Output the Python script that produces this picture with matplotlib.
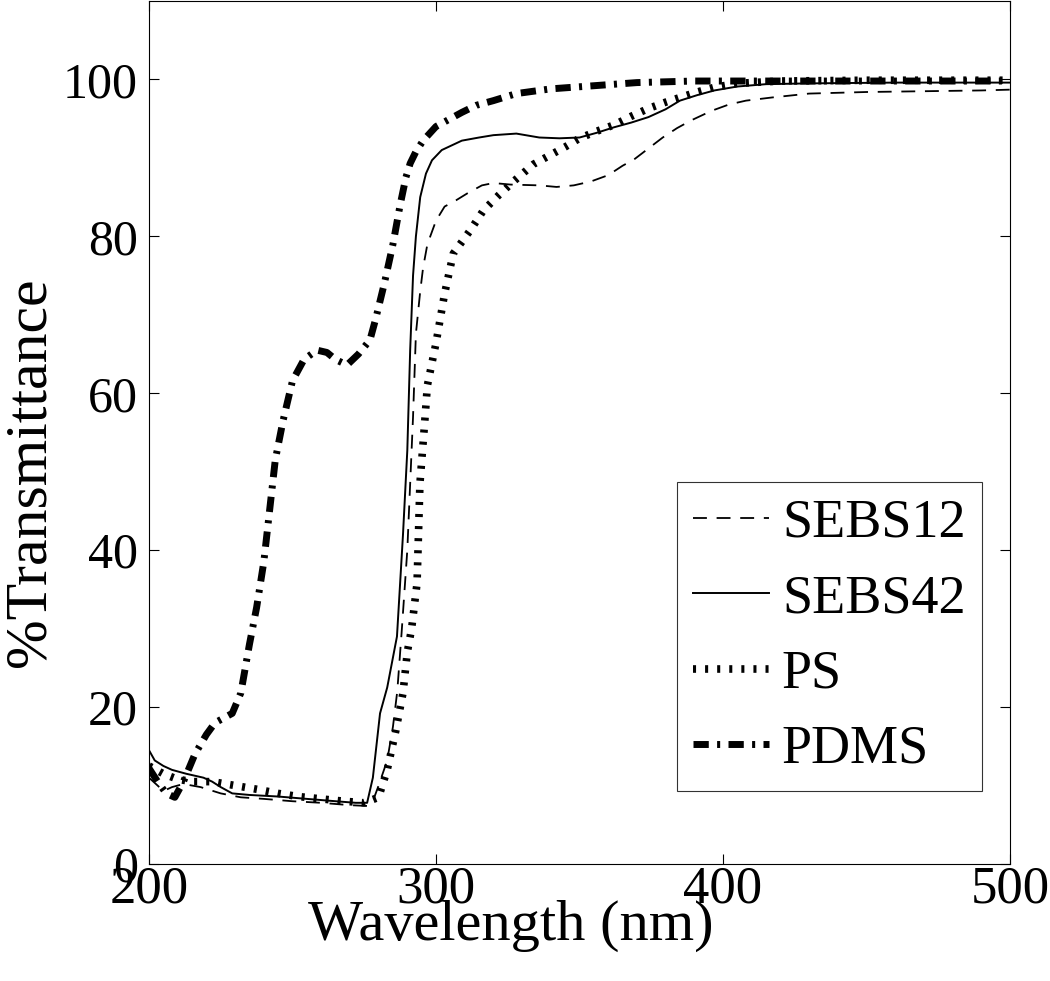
import matplotlib
matplotlib.use("Agg")
import matplotlib.pyplot as plt

plt.rcParams['font.family'] = ['Liberation Serif', 'DejaVu Serif']
plt.rcParams['lines.scale_dashes'] = False

# SEBS12 (thin dashed)
wl_sebs12 = [200, 203, 205, 208, 212, 218, 225, 232, 240, 250, 260, 270, 276, 278, 280, 283, 285,
             286.5, 288, 290, 292, 293, 294.5, 295.5, 297, 300, 303, 307, 311, 316, 320, 326, 336,
             342, 348, 354, 360, 365, 369, 374, 379, 384, 389, 396, 402, 408, 417, 430, 450, 470,
             490, 500]
t_sebs12 = [11.0, 10.0, 9.3, 9.8, 10.2, 9.8, 9.0, 8.5, 8.3, 8.0, 7.8, 7.5, 7.4, 8.0, 10.0, 13.2, 17.5,
            22.0, 29.4, 40.0, 57.0, 67.6, 73.0, 76.0, 79.0, 82.0, 83.8, 84.6, 85.5, 86.5, 86.8, 86.6, 86.5,
            86.3, 86.5, 87.0, 87.8, 89.0, 89.8, 91.2, 92.6, 93.8, 94.8, 96.0, 96.8, 97.3, 97.7, 98.2, 98.4, 98.5,
            98.6, 98.7]

# SEBS42 (thin solid)
wl_sebs42 = [200, 202, 205, 208, 213, 219, 222, 225, 229, 235, 245, 255, 265, 272, 276, 278, 280.5,
             283, 286.4, 287.5, 288.5, 290, 291, 292, 293, 294.5, 296.5, 298.6, 302, 309, 315, 320, 328,
             336, 343, 350, 356, 362, 368, 374, 380, 385, 391, 397, 405, 415, 430, 460, 500]
t_sebs42 = [14.5, 13.2, 12.5, 12.0, 11.5, 11.0, 10.5, 9.8, 9.0, 8.8, 8.6, 8.3, 8.0, 7.8, 7.8, 11.0, 19.2,
            22.5, 29.0, 35.8, 42.0, 52.7, 65.5, 75.0, 80.0, 85.0, 88.0, 89.7, 91.0, 92.2, 92.6, 92.9, 93.1,
            92.6, 92.5, 92.6, 93.2, 93.9, 94.5, 95.2, 96.2, 97.3, 98.0, 98.6, 99.1, 99.4, 99.5, 99.6, 99.6]

# PS (thick dotted)
wl_ps = [200, 205, 210, 215, 222, 230, 238, 245, 252, 260, 268, 275, 280, 283, 286, 288.5, 290, 291.5,
         293.4, 294.4, 296, 297, 300, 303, 306, 312, 316.5, 322, 327, 334, 339, 345, 350, 356, 362, 368,
         374, 380, 385, 391, 397, 405, 420, 450, 500]
t_ps = [12.5, 11.5, 10.8, 10.5, 10.5, 10.0, 9.5, 9.0, 8.6, 8.3, 8.0, 7.8, 8.5, 12.0, 17.0, 21.8, 27.0, 30.0,
        35.8, 48.5, 56.0, 61.0, 66.4, 72.7, 77.8, 80.8, 83.3, 85.3, 87.0, 89.2, 90.2, 91.4, 92.5, 93.4, 94.2, 95.3,
        96.3, 97.1, 97.7, 98.4, 99.0, 99.5, 99.8, 99.9, 99.9]

# PDMS (thick dash-dot)
wl_pdms = [200, 203, 206, 209, 212, 216, 220, 223, 226, 229, 232, 235, 237.5, 240, 242, 244, 246.7, 250,
           254, 258.5, 262, 265, 269, 273, 277, 279, 282, 285, 287.5, 289.5, 291, 293, 295.5, 300, 304,
           309, 314, 320, 328, 340, 355, 370, 390, 420, 460, 500]
t_pdms = [12.2, 10.5, 9.0, 8.5, 10.5, 14.0, 16.5, 18.0, 18.6, 19.2, 21.8, 28.0, 32.7, 38.5, 45.0, 51.5, 56.5, 61.6,
          64.3, 65.5, 65.2, 64.3, 63.6, 65.0, 66.8, 69.5, 74.0, 79.0, 84.0, 87.5, 89.3, 90.8, 92.2, 94.0, 94.8,
          95.8, 96.7, 97.3, 98.2, 98.8, 99.2, 99.6, 99.8, 99.8, 99.8, 99.8]

fig = plt.figure(figsize=(10.5, 9.81), dpi=100)
ax = fig.add_axes([149 / 1050, 117 / 981, 861 / 1050, 863 / 981])

ax.plot(wl_sebs12, t_sebs12, color='black', lw=1.3, dashes=(10, 7), label='SEBS12')
ax.plot(wl_sebs42, t_sebs42, color='black', lw=1.4, label='SEBS42')
ax.plot(wl_ps, t_ps, color='black', lw=5.5, dashes=(2.2, 6.5), label='PS')
ax.plot(wl_pdms, t_pdms, color='black', lw=5.0, dashes=(11, 6, 2.2, 6), label='PDMS')

ax.set_xlim(200, 500)
ax.set_ylim(0, 110)
ax.set_xticks([200, 300, 400, 500])
ax.set_yticks([0, 20, 40, 60, 80, 100])
ax.tick_params(direction='in', length=7, width=0.8, top=True, right=True)
ax.tick_params(axis='x', pad=1, labelsize=38)
ax.tick_params(axis='y', pad=8, labelsize=36)
for s in ax.spines.values():
    s.set_linewidth(0.8)

ax.set_xlabel('Wavelength (nm)', fontsize=42)
ax.set_ylabel('%Transmittance', fontsize=43)
ax.xaxis.set_label_coords(0.42, -0.041)
ax.yaxis.set_label_coords(-0.106, 0.454)

leg = ax.legend(loc='upper left', bbox_to_anchor=(0.613, 0.4427), fontsize=39, frameon=True,
                fancybox=False, edgecolor='black', handlelength=1.4, handletextpad=0.24,
                labelspacing=0.46, borderpad=0.3, borderaxespad=0)
leg.get_frame().set_linewidth(0.8)

fig.savefig('out.png', dpi=100)
